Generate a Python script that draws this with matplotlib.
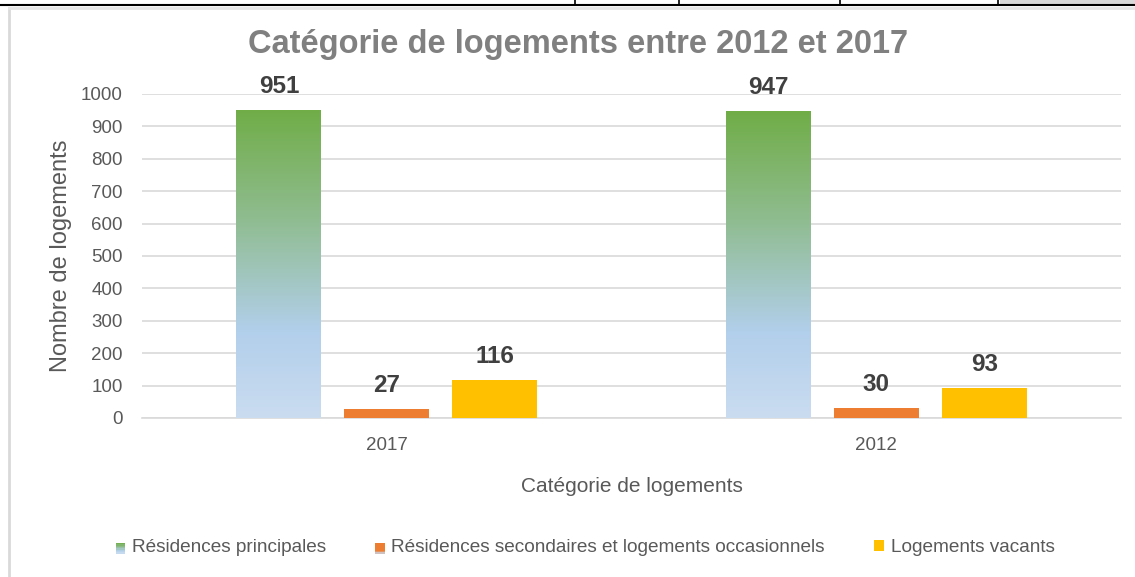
import numpy as np
import matplotlib
matplotlib.use("Agg")
import matplotlib.pyplot as plt
from matplotlib.colors import LinearSegmentedColormap
from matplotlib.lines import Line2D
from matplotlib.patches import Rectangle, Patch
from matplotlib.legend_handler import HandlerBase

# data
years = ["2017", "2012"]
series = ["Résidences principales",
          "Résidences secondaires et logements occasionnels",
          "Logements vacants"]
principales = [951, 947]
secondaires = [27, 30]
vacants = [116, 93]

GREEN_GRAD = LinearSegmentedColormap.from_list(
    "grad", [(0.0, "#cadcf0"), (0.28, "#b2cfeb"), (0.65, "#8fbc8f"), (1.0, "#70ad47")])
ORANGE_GRAD = LinearSegmentedColormap.from_list(
    "ograd", [(0.0, "#c5d8ee"), (0.25, "#ed7d31"), (1.0, "#ed7d31")])
ORANGE = "#ed7d31"
YELLOW = "#ffc000"
TXT = "#595959"

plt.rcParams["font.family"] = ["Liberation Sans", "DejaVu Sans"]


class GradHandler(HandlerBase):
    """Legend key drawn as stacked strips from a colormap."""
    def __init__(self, cmap, n=8):
        super().__init__()
        self.cmap = cmap
        self.n = n

    def create_artists(self, legend, orig, xd, yd, width, height, fontsize, trans):
        arts = []
        for i in range(self.n):
            arts.append(Rectangle((xd, yd + height * i / self.n), width, height / self.n,
                                  facecolor=self.cmap((i + 0.5) / self.n), lw=0,
                                  transform=trans))
        return arts


W, H = 1135, 577
fig = plt.figure(figsize=(W / 100, H / 100), dpi=100)
ax = fig.add_axes([142 / W, 1 - 418 / H, (1121 - 142) / W, (418 - 94) / H])

xs = np.arange(len(years))
step = 108 / 490
width = 85 / 490

b1 = ax.bar(xs - step, principales, width, color="none", zorder=3)
b2 = ax.bar(xs, secondaires, width, color=ORANGE, zorder=3)
b3 = ax.bar(xs + step, vacants, width, color=YELLOW, zorder=3)

# gradient fill for the green bars
grad = np.linspace(0, 1, 256).reshape(-1, 1)
for bar in b1:
    x0, w, h = bar.get_x(), bar.get_width(), bar.get_height()
    im = ax.imshow(grad, cmap=GREEN_GRAD, origin="lower", aspect="auto",
                   extent=(x0, x0 + w, 0, h), zorder=3)
    im.set_clip_path(bar)

for bars in (b1, b2, b3):
    for bar in bars:
        ax.text(bar.get_x() + bar.get_width() / 2, bar.get_height() + 38,
                f"{int(bar.get_height())}", ha="center", va="bottom",
                fontsize=17.5, fontweight="bold", color="#404040", clip_on=False)

ax.set_xlim(-0.5, 1.5)
ax.set_ylim(0, 1000)
ax.set_yticks(range(0, 1001, 100))
ax.set_xticks(xs)
ax.set_xticklabels(years)
ax.tick_params(axis="both", length=0, labelsize=13.5, labelcolor=TXT)
ax.tick_params(axis="x", pad=14)
ax.tick_params(axis="y", pad=14)
ax.grid(True, axis="y", color="#d9d9d9", linewidth=1.2, zorder=0)
for s in ("top", "right", "left"):
    ax.spines[s].set_visible(False)
ax.spines["bottom"].set_color("#d9d9d9")
ax.spines["bottom"].set_linewidth(1.2)

ax.set_xlabel("Catégorie de logements", fontsize=15, color=TXT, labelpad=16)
ax.set_ylabel("Nombre de logements", fontsize=17, color=TXT, labelpad=6)
fig.text(578 / W, 1 - 45 / H, "Catégorie de logements entre 2012 et 2017",
         ha="center", va="center", fontsize=23.5, fontweight="bold", color="#808080")

handles = [Patch(), Patch(), Patch(facecolor=YELLOW)]
fig.legend(handles, series, loc="center", bbox_to_anchor=(585 / W, 1 - 548 / H),
           ncol=3, frameon=False, fontsize=13.7, labelcolor=TXT,
           handlelength=0.5, handleheight=0.5, handletextpad=0.35, columnspacing=2.6,
           handler_map={handles[0]: GradHandler(GREEN_GRAD),
                        handles[1]: GradHandler(ORANGE_GRAD)})

# surrounding frame from the screenshot
fig.add_artist(Rectangle((1000 / W, 1 - 4 / H), 135 / W, 4 / H,
                         transform=fig.transFigure, color="#d9d9d9", lw=0))
fig.add_artist(Line2D([0, 1], [1 - 5 / H] * 2, color="black", lw=1.5))
for xd in (575, 679, 840, 998):
    fig.add_artist(Line2D([xd / W] * 2, [1 - 5 / H, 1], color="black", lw=1.2))
fig.add_artist(Line2D([9 / W] * 2, [0, 1 - 8 / H], color="#d9d9d9", lw=2))
fig.add_artist(Line2D([9 / W, 1], [1 - 8 / H] * 2, color="#e6e6e6", lw=2))

fig.savefig("out.png", dpi=100)
